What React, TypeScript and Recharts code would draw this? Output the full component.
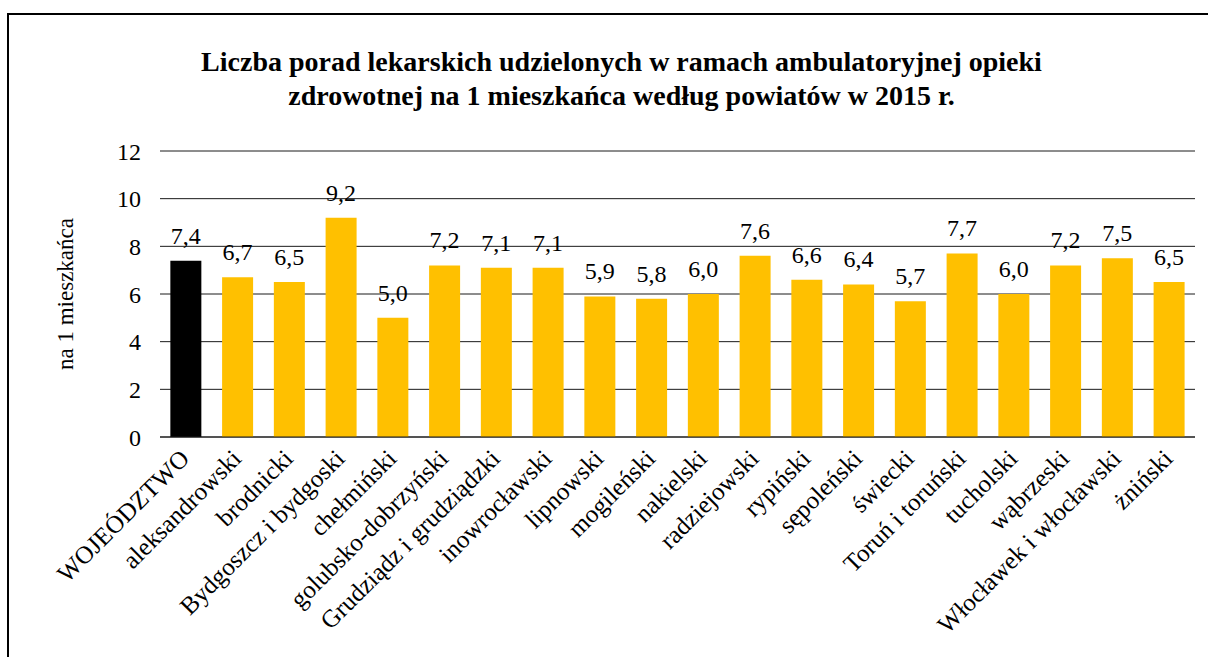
import { BarChart, Bar, XAxis, YAxis, CartesianGrid, Cell, LabelList } from 'recharts'

const categories = [
  'WOJEÓDZTWO', 'aleksandrowski', 'brodnicki', 'Bydgoszcz i bydgoski', 'chełmiński',
  'golubsko-dobrzyński', 'Grudziądz i grudziądzki', 'inowrocławski', 'lipnowski', 'mogileński',
  'nakielski', 'radziejowski', 'rypiński', 'sępoleński', 'świecki',
  'Toruń i toruński', 'tucholski', 'wąbrzeski', 'Włocławek i włocławski', 'żniński',
]
const values = [7.4, 6.7, 6.5, 9.2, 5.0, 7.2, 7.1, 7.1, 5.9, 5.8, 6.0, 7.6, 6.6, 6.4, 5.7, 7.7, 6.0, 7.2, 7.5, 6.5]
const yTicks = [0, 2, 4, 6, 8, 10, 12]

const data = categories.map((name, i) => ({ name, value: values[i] }))

const FONT = '"Liberation Serif", "Times New Roman", serif'

function XTick({ x, y, payload }: any) {
  const ax = x + 5
  const ay = y + 15
  return (
    <text
      x={ax}
      y={ay}
      transform={`rotate(-45, ${ax}, ${ay})`}
      textAnchor="end"
      fontFamily={FONT}
      fontSize={25}
      fill="#000"
    >
      {payload.value}
    </text>
  )
}

export default function App() {
  return (
    <div
      style={{
        position: 'absolute', left: 7, top: 13, width: 1220, height: 680,
        border: '2px solid #000', background: '#fff',
      }}
    >
      {/* Title */}
      <div
        style={{
          position: 'absolute', left: 0, top: 30, width: 1225, textAlign: 'center',
          fontFamily: FONT, fontWeight: 'bold', fontSize: 28, lineHeight: '34px', color: '#000',
        }}
      >
        Liczba porad lekarskich udzielonych w ramach ambulatoryjnej opieki
        <br />
        zdrowotnej na 1 mieszkańca według powiatów w 2015 r.
      </div>

      <BarChart
        width={1200}
        height={640}
        data={data}
        margin={{ top: 136, right: 14, bottom: 0, left: 0 }}
        barCategoryGap="20%"
      >
        <CartesianGrid vertical={false} stroke="#1a1a1a" />
        <XAxis
          dataKey="name"
          interval={0}
          height={218}
          tick={<XTick />}
          tickLine={false}
          axisLine={{ stroke: '#1a1a1a' }}
        />
        <YAxis
          width={151}
          domain={[0, 12]}
          ticks={yTicks}
          tickLine={false}
          axisLine={false}
          tickSize={0}
          tickMargin={19}
          tick={{ fontFamily: FONT, fontSize: 24, fill: '#000' }}
          label={({ viewBox }: any) => (
            <text
              x={64}
              y={viewBox.y + viewBox.height / 2}
              transform={`rotate(-90, 64, ${viewBox.y + viewBox.height / 2})`}
              textAnchor="middle"
              fontFamily={FONT}
              fontSize={23}
              fill="#000"
            >
              na 1 mieszkańca
            </text>
          )}
        />
        <Bar dataKey="value" isAnimationActive={false}>
          {data.map((d, i) => (
            <Cell key={d.name} fill={i === 0 ? '#000000' : '#FFC000'} />
          ))}
          <LabelList
            dataKey="value"
            position="top"
            offset={17}
            formatter={(v: any) => Number(v).toFixed(1).replace('.', ',')}
            style={{ fontFamily: FONT, fontSize: 24, fill: '#000' }}
          />
        </Bar>
      </BarChart>
    </div>
  )
}
